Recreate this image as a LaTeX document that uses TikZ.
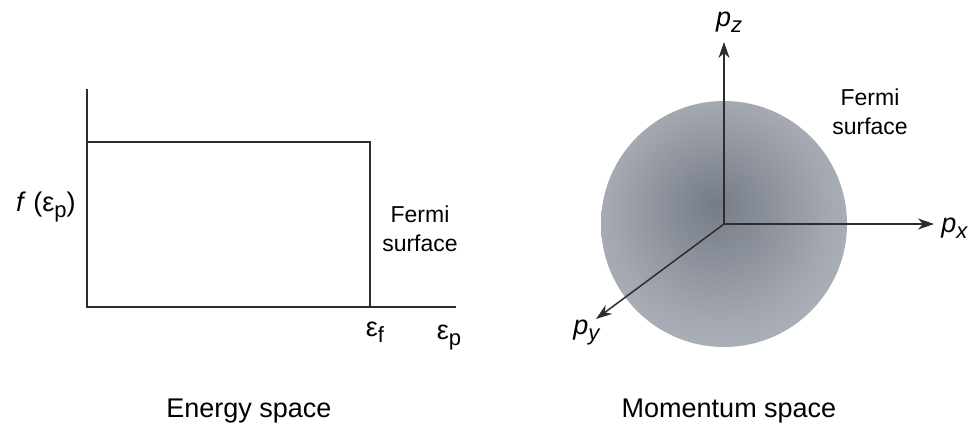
\documentclass[tikz,border=0pt]{standalone}
\usepackage{fontspec}
\setmainfont{Liberation Sans}
\usetikzlibrary{arrows.meta}

\definecolor{ballcore}{RGB}{118,124,134}
\definecolor{ballmid}{RGB}{162,167,176}
\definecolor{ballrim}{RGB}{205,209,216}
\definecolor{axisgray}{RGB}{45,45,45}
\pgfdeclareradialshading{fermiball}{\pgfpoint{-2bp}{4bp}}{%
  color(0bp)=(ballcore); color(22bp)=(ballmid); color(50bp)=(ballrim)}
\newcommand{\lowsub}[1]{\raisebox{-0.4ex}{\fontsize{11}{12}\selectfont #1}}

\begin{document}
\begin{tikzpicture}[x=0.5pt, y=-0.5pt,
    every node/.style={font=\fontsize{11.5}{14.75}\selectfont, inner sep=0pt},
    sym/.style={font=\fontsize{13.5}{16}\selectfont},
    caption/.style={font=\fontsize{13.5}{16}\selectfont},
    axis/.style={line width=1pt, axisgray},
    paxis/.style={line width=0.75pt, axisgray, -{Stealth[length=8pt,width=5.5pt,inset=2.5pt]}}]
    \useasboundingbox (0,0) rectangle (978,431);

    % energy space
    \coordinate (O) at (87,307);
    \coordinate (ytop) at (87,89);
    \coordinate (xend) at (456,307);
    \coordinate (stepL) at (87,142);
    \coordinate (stepR) at (370,142);
    \coordinate (stepB) at (370,307);
    \draw[axis] (ytop) -- (O) -- (xend);
    \draw[axis] (stepL) -- (stepR) -- (stepB);
    \node[sym, anchor=base east] (fe) at (76,212) {\textit{f}\;(ε\lowsub{p})};
    \node[sym, anchor=base] (ef) at (375,337) {ε\lowsub{f}};
    \node[sym, anchor=base] (ep) at (449,340) {ε\lowsub{p}};
    \node[align=center] (fsE) at (420,229) {Fermi\\surface};
    \node[caption, anchor=base] (eng) at (249,418) {Energy space};

    % momentum space
    \coordinate (P) at (724,224);
    \shade[shading=fermiball] (P) circle[radius=123];
    \coordinate (pzend) at (724,42);
    \coordinate (pxend) at (934,224);
    \coordinate (pyend) at (596,319);
    \foreach \e in {pzend,pxend,pyend} {
        \draw[paxis] (P) -- (\e);
    }
    \node[sym, anchor=base] (pz) at (729,27) {\textit{p}\lowsub{\textit{z}}};
    \node[sym, anchor=base west] (px) at (941,233) {\textit{p}\lowsub{\textit{x}}};
    \node[sym, anchor=base] (py) at (587,335) {\textit{p}\lowsub{\textit{y}}};
    \node[align=center] (fsM) at (870,112) {Fermi\\surface};
    \node[caption, anchor=base] (mom) at (729,418) {Momentum space};
\end{tikzpicture}
\end{document}
